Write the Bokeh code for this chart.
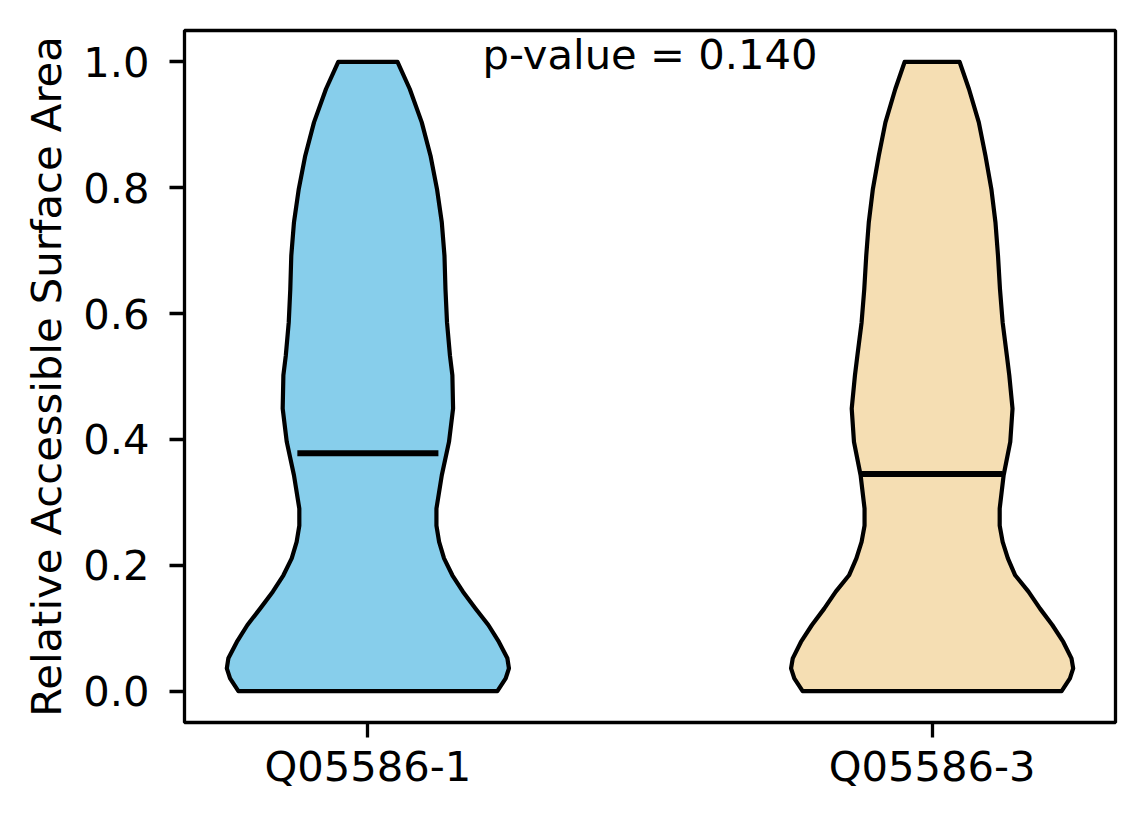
from bokeh.plotting import figure
from bokeh.models import Range1d, FixedTicker, Label, ColumnDataSource
from bokeh.embed import file_html
from bokeh.resources import INLINE

# ---- data ----
categories = ["Q05586-1", "Q05586-3"]
colors = ["#87CEEB", "#F5DEB3"]
# RSA levels at which the violin density outline was read
levels = [0.0, 0.020, 0.036, 0.052, 0.078, 0.105, 0.131, 0.158, 0.184, 0.211,
          0.237, 0.263, 0.290, 0.343, 0.396, 0.449, 0.502, 0.533, 0.586, 0.639,
          0.692, 0.745, 0.798, 0.851, 0.904, 0.957, 1.0]
# relative (max-normalised) kernel density at each level
density_1 = [0.918, 0.977, 1.000, 0.989, 0.929, 0.854, 0.764, 0.674, 0.599, 0.540,
             0.505, 0.486, 0.486, 0.524, 0.575, 0.604, 0.599, 0.582, 0.561, 0.550,
             0.543, 0.524, 0.490, 0.444, 0.382, 0.297, 0.210]
density_3 = [0.918, 0.977, 1.000, 0.988, 0.930, 0.852, 0.765, 0.683, 0.589, 0.537,
             0.500, 0.479, 0.479, 0.507, 0.554, 0.570, 0.547, 0.530, 0.500, 0.481,
             0.467, 0.449, 0.420, 0.378, 0.331, 0.261, 0.195]
medians = [0.378, 0.345]
p_value = 0.140
y_ticks = [0.0, 0.2, 0.4, 0.6, 0.8, 1.0]

densities = [density_1, density_3]
positions = [i + 1 for i in range(len(categories))]
violin_width = 0.5
FONT = "DejaVu Sans"
FS = "41.7px"

p = figure(width=1144, height=824, output_backend="svg", toolbar_location=None,
           x_range=Range1d(0.675, 2.325), y_range=Range1d(-0.05, 1.05),
           min_border_left=184, min_border_right=29, min_border_top=30,
           min_border_bottom=102)
p.background_fill_color = "white"
p.border_fill_color = "white"
p.grid.visible = False
p.outline_line_color = "black"
p.outline_line_width = 3.3

# violins
xs, ys = [], []
for pos, dens in zip(positions, densities):
    half = [violin_width / 2 * d for d in dens]
    left_x = [pos - h for h in half]
    right_x = [pos + h for h in reversed(half)]
    xs.append(left_x + right_x)
    ys.append(list(levels) + list(reversed(levels)))
src = ColumnDataSource(dict(xs=xs, ys=ys, fill=colors))
p.patches("xs", "ys", source=src, fill_color="fill", fill_alpha=1.0,
          line_color="black", line_width=4.2, line_join="round")

# medians
p.segment(x0=[pos - violin_width / 4 for pos in positions], y0=medians,
          x1=[pos + violin_width / 4 for pos in positions], y1=medians,
          line_color="black", line_width=6.2)

# p-value annotation
lbl = Label(x=sum(positions) / len(positions), y=max(levels), y_offset=7,
            text="p-value = %.3f" % p_value, text_align="center",
            text_baseline="alphabetic", text_font=FONT, text_font_size=FS,
            text_color="black")
p.add_layout(lbl)

# axes
for ax in (p.xaxis[0], p.yaxis[0]):
    ax.axis_line_color = None
    ax.major_tick_line_color = "black"
    ax.major_tick_line_width = 3.3
    ax.major_tick_out = 15
    ax.major_tick_in = 0
    ax.minor_tick_line_color = None
    ax.major_label_text_font = FONT
    ax.major_label_text_font_size = FS
    ax.major_label_text_color = "black"

p.xaxis.ticker = FixedTicker(ticks=positions)
p.xaxis.major_label_overrides = {pos: c for pos, c in zip(positions, categories)}
p.xaxis.major_label_standoff = 4

p.yaxis.ticker = FixedTicker(ticks=y_ticks)
p.yaxis.major_label_overrides = {t: "%.1f" % t for t in y_ticks}
p.yaxis.major_label_standoff = 20
p.yaxis.axis_label = "Relative Accessible Surface Area"
p.yaxis.axis_label_text_font = FONT
p.yaxis.axis_label_text_font_size = FS
p.yaxis.axis_label_text_font_style = "normal"
p.yaxis.axis_label_text_color = "black"
p.yaxis.axis_label_standoff = 9

open("out.html", "w").write(file_html(p, INLINE))
